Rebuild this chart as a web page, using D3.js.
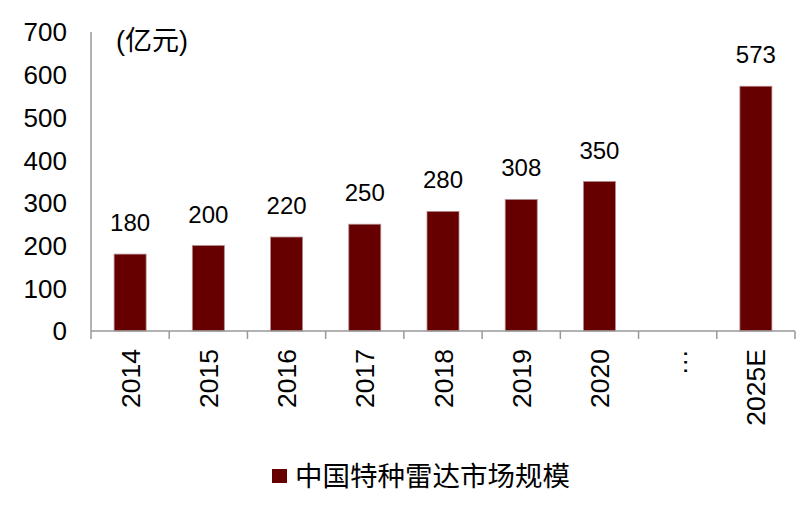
<!DOCTYPE html>
<html>
<head>
<meta charset="utf-8">
<script src="https://cdn.jsdelivr.net/npm/d3@7"></script>
<style>
  body { margin: 0; background: #fff; }
  svg text { font-family: "Liberation Sans", Arial, "Noto Sans CJK SC", sans-serif; fill: #000; }
</style>
</head>
<body>
<svg id="chart" width="812" height="514"></svg>
<script>
// data
const years = ["2014", "2015", "2016", "2017", "2018", "2019", "2020", "…", "2025E"];
const marketSize = [180, 200, 220, 250, 280, 308, 350, null, 573];
const yTicks = [0, 100, 200, 300, 400, 500, 600, 700];
const unitLabel = "(亿元)";
const seriesName = "中国特种雷达市场规模";

const svg = d3.select("#chart");
const plotLeft = 91, plotRight = 795, plotTop = 32, plotBottom = 331;
const barColor = "#660000";

const x = d3.scaleBand().domain(years).range([plotLeft, plotRight]);
const y = d3.scaleLinear().domain([0, 700]).range([plotBottom, plotTop]);

// y axis: line + labels only
svg.append("line")
  .attr("x1", plotLeft).attr("x2", plotLeft)
  .attr("y1", plotTop).attr("y2", plotBottom)
  .attr("stroke", "#999").attr("stroke-width", 1.5);

svg.selectAll(".ylab")
  .data(yTicks)
  .enter().append("text")
  .attr("class", "ylab")
  .attr("x", 67)
  .attr("y", d => y(d))
  .attr("dy", "0.36em")
  .attr("text-anchor", "end")
  .style("font-size", "26px")
  .text(d => d);

// bars
const rows = years.map((c, i) => ({ cat: c, v: marketSize[i] }));
const barW = 32;

svg.selectAll(".bar")
  .data(rows.filter(d => d.v != null))
  .enter().append("rect")
  .attr("class", "bar")
  .attr("x", d => x(d.cat) + x.bandwidth() / 2 - barW / 2)
  .attr("y", d => y(d.v))
  .attr("width", barW)
  .attr("height", d => plotBottom - y(d.v))
  .attr("fill", barColor)
  .attr("stroke", "#b48a8a")
  .attr("stroke-width", 0.8);

svg.selectAll(".val")
  .data(rows.filter(d => d.v != null))
  .enter().append("text")
  .attr("class", "val")
  .attr("x", d => x(d.cat) + x.bandwidth() / 2)
  .attr("y", d => y(d.v) - 23)
  .attr("text-anchor", "middle")
  .style("font-size", "24px")
  .text(d => d.v);

// x axis
const xAxis = svg.append("g");
xAxis.append("line")
  .attr("x1", plotLeft).attr("x2", plotRight)
  .attr("y1", plotBottom).attr("y2", plotBottom)
  .attr("stroke", "#999").attr("stroke-width", 1.5);

const edges = years.map(c => x(c)).concat([plotRight]);
xAxis.selectAll(".tick")
  .data(edges)
  .enter().append("line")
  .attr("x1", d => d).attr("x2", d => d)
  .attr("y1", plotBottom).attr("y2", plotBottom + 8)
  .attr("stroke", "#999").attr("stroke-width", 1.5);

xAxis.selectAll(".xlab")
  .data(years)
  .enter().append("text")
  .attr("class", "xlab")
  .attr("transform", d => `translate(${x(d) + x.bandwidth() / 2},349) rotate(-90)`)
  .attr("dy", "0.36em")
  .attr("text-anchor", "end")
  .style("font-size", "26.5px")
  .text(d => d);

// unit
svg.append("text")
  .attr("x", 116).attr("y", 50)
  .style("font-size", "27px")
  .text(unitLabel);

// legend
svg.append("rect")
  .attr("x", 272).attr("y", 469)
  .attr("width", 15).attr("height", 14)
  .attr("fill", barColor);
svg.append("text")
  .attr("x", 295).attr("y", 486)
  .style("font-size", "27.5px")
  .text(seriesName);
</script>
</body>
</html>
